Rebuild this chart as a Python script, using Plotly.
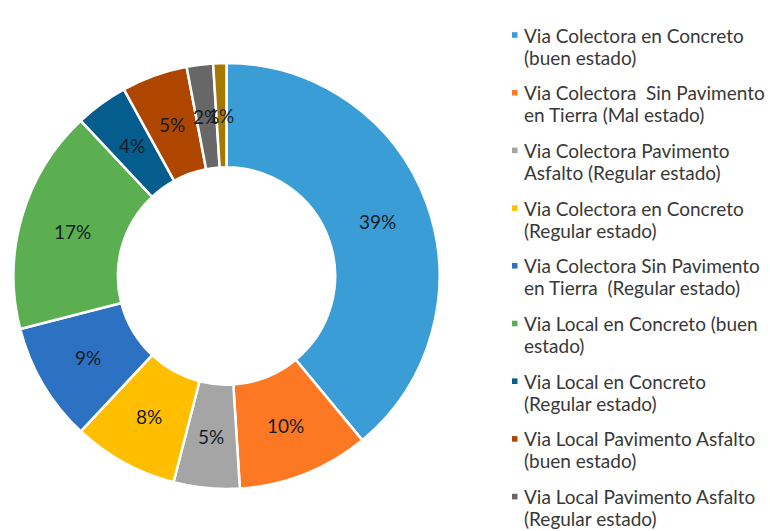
import math
import plotly.graph_objects as go

categories = [
    ["Via Colectora en Concreto", "(buen estado)"],
    ["Via Colectora  Sin Pavimento", "en Tierra (Mal estado)"],
    ["Via Colectora Pavimento", "Asfalto (Regular estado)"],
    ["Via Colectora en Concreto", "(Regular estado)"],
    ["Via Colectora Sin Pavimento", "en Tierra  (Regular estado)"],
    ["Via Local en Concreto (buen", "estado)"],
    ["Via Local en Concreto", "(Regular estado)"],
    ["Via Local Pavimento Asfalto", "(buen estado)"],
    ["Via Local Pavimento Asfalto", "(Regular estado)"],
    ["Via Local Sin Pavimento", "(Regular estado)"],
]
values = [39, 10, 5, 8, 9, 17, 4, 5, 2, 1]
colors = ["#3A9DD6", "#FD7823", "#A5A5A5", "#FFBF00", "#2C71C2",
          "#5BAF50", "#055D8E", "#AF4600", "#676767", "#A57800"]

W, H = 770, 531
cx, cy, R = 226.5, 276, 213
HOLE = 0.51

labels = [" ".join(c) for c in categories]

fig = go.Figure(go.Pie(
    labels=labels,
    values=values,
    marker=dict(colors=colors, line=dict(color="white", width=2.5)),
    hole=HOLE,
    sort=False,
    direction="clockwise",
    rotation=0,
    textinfo="none",
    domain=dict(x=[(cx - R) / W, (cx + R) / W], y=[1 - (cy + R) / H, 1 - (cy - R) / H]),
    showlegend=False,
    hoverinfo="label+percent",
))

annotations = []
shapes = []

# percentage labels at the middle of the ring of each slice
total = sum(values)
cum = 0
rmid = R * (1 + HOLE) / 2
for v in values:
    frac_mid = (cum + v / 2) / total
    cum += v
    ang = 2 * math.pi * frac_mid
    px = cx + rmid * math.sin(ang)
    py = cy - rmid * math.cos(ang)
    annotations.append(dict(
        x=px / W, y=1 - py / H, xref="paper", yref="paper",
        xanchor="center", yanchor="middle",
        text=f"{round(100 * v / total)}%", showarrow=False,
        font=dict(family="Lato", size=19, color="#141d27"),
    ))

# legend drawn as text + coloured squares
for i, (lines, col) in enumerate(zip(categories, colors)):
    y1 = 35 + 57.7 * i
    for j, line in enumerate(lines):
        annotations.append(dict(
            x=522 / W, y=1 - (y1 + 22 * j) / H, xref="paper", yref="paper",
            xanchor="left", yanchor="middle", align="left",
            text=line, showarrow=False,
            font=dict(family="Lato", size=19, color="#383838"),
        ))
    shapes.append(dict(
        type="rect", xref="paper", yref="paper",
        x0=512 / W, x1=517.5 / W,
        y0=1 - (y1 + 2.8) / H, y1=1 - (y1 - 2.8) / H,
        fillcolor=col, line=dict(width=0),
    ))

fig.update_layout(
    width=W, height=H,
    margin=dict(l=0, r=0, t=0, b=0),
    paper_bgcolor="white",
    plot_bgcolor="white",
    annotations=annotations,
    shapes=shapes,
)

fig.write_html("out.html", config={"displayModeBar": False},
               post_script="document.body.style.margin='0';")
